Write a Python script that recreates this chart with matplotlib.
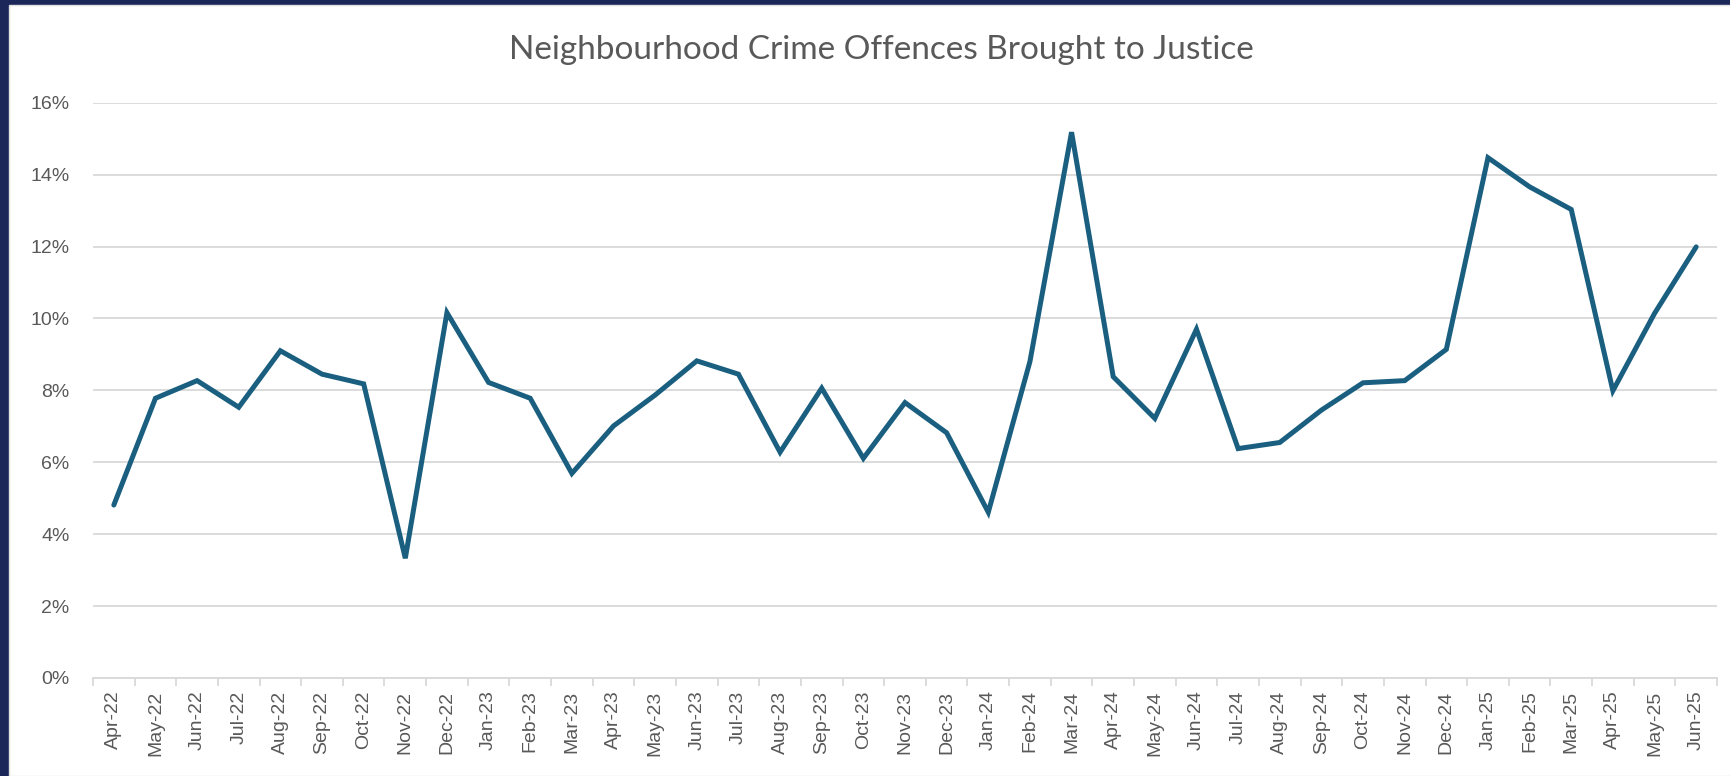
import matplotlib
matplotlib.use('Agg')
import matplotlib.pyplot as plt
import matplotlib.patches as mpatches
import matplotlib.ticker as mticker
import numpy as np

months = ['Apr-22', 'May-22', 'Jun-22', 'Jul-22', 'Aug-22', 'Sep-22', 'Oct-22', 'Nov-22',
          'Dec-22', 'Jan-23', 'Feb-23', 'Mar-23', 'Apr-23', 'May-23', 'Jun-23', 'Jul-23',
          'Aug-23', 'Sep-23', 'Oct-23', 'Nov-23', 'Dec-23', 'Jan-24', 'Feb-24', 'Mar-24',
          'Apr-24', 'May-24', 'Jun-24', 'Jul-24', 'Aug-24', 'Sep-24', 'Oct-24', 'Nov-24',
          'Dec-24', 'Jan-25', 'Feb-25', 'Mar-25', 'Apr-25', 'May-25', 'Jun-25']

# % of offences brought to justice
rate = [4.81, 7.78, 8.27, 7.53, 9.10, 8.45, 8.18, 3.33, 10.16, 8.22, 7.78, 5.69, 7.01,
        7.87, 8.82, 8.45, 6.28, 8.06, 6.11, 7.66, 6.82, 4.61, 8.80, 15.18, 8.38, 7.22,
        9.70, 6.38, 6.55, 7.45, 8.21, 8.27, 9.14, 14.47, 13.66, 13.03, 7.99, 10.14, 11.99]

y_ticks = [0, 2, 4, 6, 8, 10, 12, 14, 16]

title = 'Neighbourhood Crime Offences Brought to Justice'
line_col = '#1A5F80'
text_col = '#595959'
grid_col = '#D9D9D9'

fig = plt.figure(figsize=(17.31, 7.76), dpi=100)
fig.patch.set_facecolor('#1B2759')
# white chart area inside the navy frame
frame = mpatches.Rectangle((9 / 1731, 0), 1, 1 - 5 / 776,
                           transform=fig.transFigure,
                           facecolor='white', edgecolor='#E0E0E0',
                           linewidth=1, zorder=-5)
fig.add_artist(frame)

ax = fig.add_axes([93 / 1731, 1 - 678 / 776, (1717 - 93) / 1731, (678 - 102.7) / 776])
ax.set_facecolor('none')
ax.set_zorder(2)

x = np.arange(len(months))
ax.plot(x, rate, color=line_col, linewidth=3.6, solid_joinstyle='miter',
        solid_capstyle='round', zorder=3)

ax.set_xlim(-0.5, len(months) - 0.5)
ax.set_ylim(0, 16)
ax.set_yticks(y_ticks)
ax.yaxis.set_major_formatter(mticker.FuncFormatter(lambda v, p: '%d%%' % v))
ax.grid(axis='y', color=grid_col, linewidth=1.3)
ax.set_axisbelow(True)

ax.set_xticks(x)
ax.set_xticklabels(months, rotation=90, fontsize=14, color=text_col,
                   family='Liberation Sans')
ax.set_xticks(np.arange(-0.5, len(months), 1), minor=True)
ax.tick_params(axis='x', which='major', length=0, pad=9)
ax.tick_params(axis='x', which='minor', length=6, width=1.3, color=grid_col)
ax.tick_params(axis='y', length=0, pad=17, labelsize=14, labelcolor=text_col)
for lab in ax.get_yticklabels():
    lab.set_family('Liberation Sans')

for side in ['top', 'right', 'left']:
    ax.spines[side].set_visible(False)
ax.spines['bottom'].set_color(grid_col)
ax.spines['bottom'].set_linewidth(1.3)

fig.text(881 / 1731, 1 - 50 / 776, title, ha='center', va='center',
         fontsize=24, color=text_col, family='Lato', zorder=3)

fig.savefig('out.png', dpi=100, facecolor=fig.get_facecolor())
